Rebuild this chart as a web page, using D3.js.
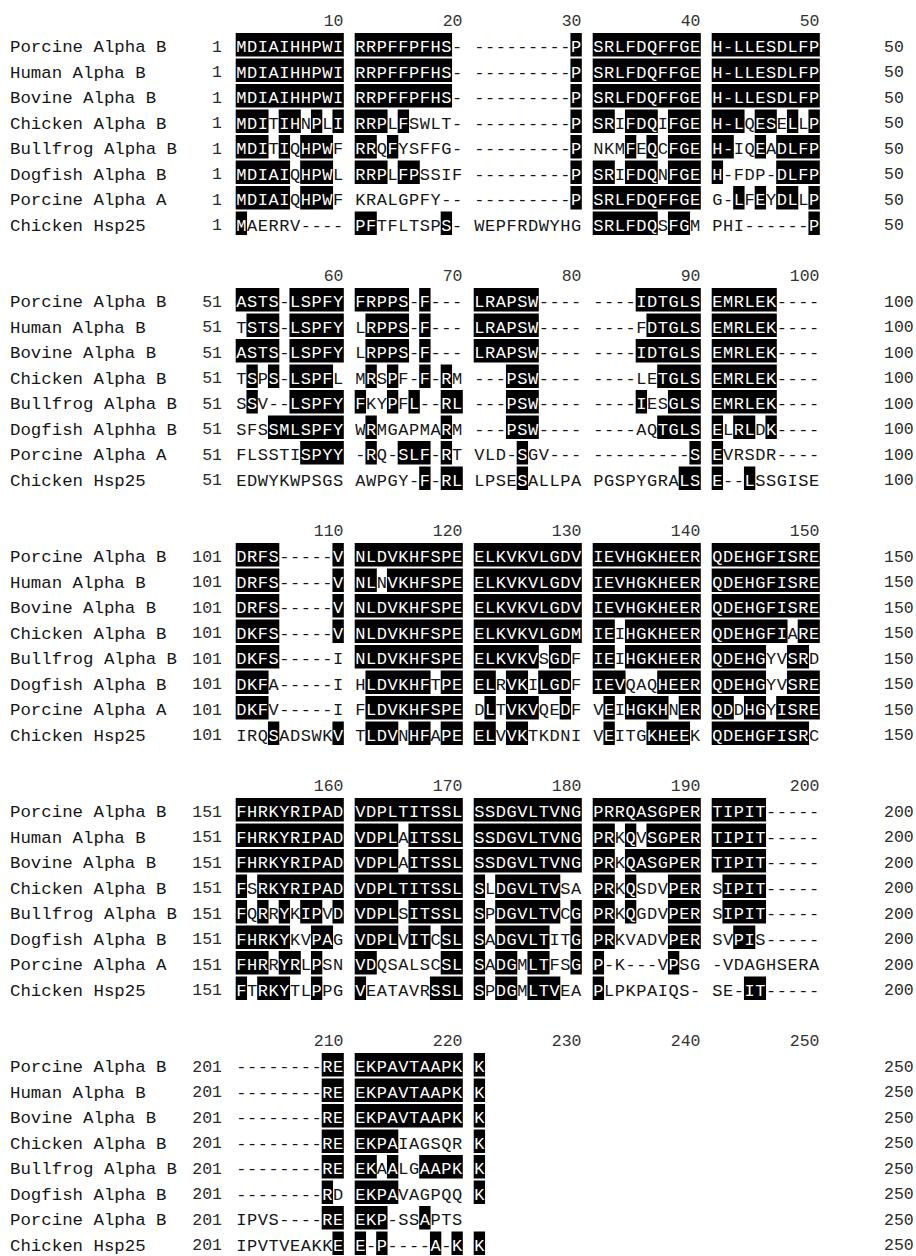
<!DOCTYPE html>
<html><head><meta charset="utf-8">
<script src="https://cdn.jsdelivr.net/npm/d3@7/dist/d3.min.js"></script>
<style>
body{margin:0;background:#fff}
text{font-family:"Liberation Mono","DejaVu Sans Mono",monospace}
</style>
</head><body>
<svg id="chart" width="916" height="1256"></svg>
<script>
// ---- data ----
const blockNames = [
  ["Porcine Alpha B","Human Alpha B","Bovine Alpha B","Chicken Alpha B","Bullfrog Alpha B","Dogfish Alpha B","Porcine Alpha A","Chicken Hsp25"],
  ["Porcine Alpha B","Human Alpha B","Bovine Alpha B","Chicken Alpha B","Bullfrog Alpha B","Dogfish Alphha B","Porcine Alpha A","Chicken Hsp25"],
  ["Porcine Alpha B","Human Alpha B","Bovine Alpha B","Chicken Alpha B","Bullfrog Alpha B","Dogfish Alpha B","Porcine Alpha A","Chicken Hsp25"],
  ["Porcine Alpha B","Human Alpha B","Bovine Alpha B","Chicken Alpha B","Bullfrog Alpha B","Dogfish Alpha B","Porcine Alpha A","Chicken Hsp25"],
  ["Porcine Alpha B","Human Alpha B","Bovine Alpha B","Chicken Alpha B","Bullfrog Alpha B","Dogfish Alpha B","Porcine Alpha B","Chicken Hsp25"]
];
const blockStarts = [1, 51, 101, 151, 201];
const blockEnds = [50, 100, 150, 200, 250];
const tickLabels = [
  [10, 20, 30, 40, 50],
  [60, 70, 80, 90, 100],
  [110, 120, 130, 140, 150],
  [160, 170, 180, 190, 200],
  [210, 220, 230, 240, 250]
];

const seq1 = [
  "MDIAIHHPWI RRPFFPFHS- ---------P SRLFDQFFGE H-LLESDLFP",
  "MDIAIHHPWI RRPFFPFHS- ---------P SRLFDQFFGE H-LLESDLFP",
  "MDIAIHHPWI RRPFFPFHS- ---------P SRLFDQFFGE H-LLESDLFP",
  "MDITIHNPLI RRPLFSWLT- ---------P SRIFDQIFGE H-LQESELLP",
  "MDITIQHPWF RRQFYSFFG- ---------P NKMFEQCFGE H-IQEADLFP",
  "MDIAIQHPWL RRPLFPSSIF ---------P SRIFDQNFGE H-FDP-DLFP",
  "MDIAIQHPWF KRALGPFY-- ---------P SRLFDQFFGE G-LFEYDLLP",
  "MAERRV---- PFTFLTSPS- WEPFRDWYHG SRLFDQSFGM PHI------P"
];
const hl1 = [
  "########## #########. .........# ########## ##########",
  "########## #########. .........# ########## ##########",
  "########## #########. .........# ########## ##########",
  "###.##.#.# ###.#..... .........# ##.###.### ###.##.#.#",
  "###.#.###. ##.#...... .........# ...#.#.### ##..#.####",
  "#####.###. ###.##.... .........# ##.###.### #.....####",
  "#####.###. .......... .........# ########## ..#.#.##.#",
  "#......... ##......#. .......... ######.##. .........#"
];
const seq2 = [
  "ASTS-LSPFY FRPPS-F--- LRAPSW---- ----IDTGLS EMRLEK----",
  "TSTS-LSPFY LRPPS-F--- LRAPSW---- ----FDTGLS EMRLEK----",
  "ASTS-LSPFY LRPPS-F--- LRAPSW---- ----IDTGLS EMRLEK----",
  "TSPS-LSPFL MRSPF-F-RM ---PSW---- ----LETGLS EMRLEK----",
  "SSV--LSPFY FKYPFL--RL ---PSW---- ----IESGLS EMRLEK----",
  "SFSSMLSPFY WRMGAPMARM ---PSW---- ----AQTGLS ELRLDK----",
  "FLSSTISPYY -RQ-SLF-RT VLD-SGV--- ---------S EVRSDR----",
  "EDWYKWPSGS AWPGY-F-RL LPSESALLPA PGSPYGRALS E--LSSGISE"
];
const hl2 = [
  "####.##### #####.#... ######.... ....###### ######....",
  ".###.##### .####.#... ######.... .....##### ######....",
  "####.##### .####.#... ######.... ....###### ######....",
  ".#.#.####. .#.#..#.#. ...###.... ......#### ######....",
  ".#...##### #..#.#..## ...###.... ....#..### ######....",
  "...####### .#......#. ...###.... ......#### #.##.#....",
  "......#### .#..###.#. ....#..... .........# #.........",
  ".......... ......#.## ....#..... ........## #..#......"
];
const seq3 = [
  "DRFS-----V NLDVKHFSPE ELKVKVLGDV IEVHGKHEER QDEHGFISRE",
  "DRFS-----V NLNVKHFSPE ELKVKVLGDV IEVHGKHEER QDEHGFISRE",
  "DRFS-----V NLDVKHFSPE ELKVKVLGDV IEVHGKHEER QDEHGFISRE",
  "DKFS-----V NLDVKHFSPE ELKVKVLGDM IEIHGKHEER QDEHGFIARE",
  "DKFS-----I NLDVKHFSPE ELKVKVSGDF IEIHGKHEER QDEHGYVSRD",
  "DKFA-----I HLDVKHFTPE ELRVKILGDF IEVQAQHEER QDEHGYVSRE",
  "DKFV-----I FLDVKHFSPE DLTVKVQEDF VEIHGKHNER QDDHGYISRE",
  "IRQSADSWKV TLDVNHFAPE ELVVKTKDNI VEITGKHEEK QDEHGFISRC"
];
const hl3 = [
  "####.....# ########## ########## ########## ##########",
  "####.....# ##.####### ########## ########## ##########",
  "####.....# ########## ########## ########## ##########",
  "####.....# ########## ########## ##.####### #######.##",
  "####...... ########## ######.##. ##.####### #####..##.",
  "###....... .######.## ##.##.###. ###...#### #####..###",
  "###....... .######### .#.###..#. .#.####.## ##.##.####",
  "...#.....# .###.##.## ##.##..... .#...####. #########."
];
const seq4 = [
  "FHRKYRIPAD VDPLTITSSL SSDGVLTVNG PRRQASGPER TIPIT-----",
  "FHRKYRIPAD VDPLAITSSL SSDGVLTVNG PRKQVSGPER TIPIT-----",
  "FHRKYRIPAD VDPLAITSSL SSDGVLTVNG PRKQASGPER TIPIT-----",
  "FSRKYRIPAD VDPLTITSSL SLDGVLTVSA PRKQSDVPER SIPIT-----",
  "FQRRYKIPVD VDPLSITSSL SPDGVLTVCG PRKQGDVPER SIPIT-----",
  "FHRKYKVPAG VDPLVITCSL SADGVLTITG PRKVADVPER SVPIS-----",
  "FHRRYRLPSN VDQSALSCSL SADGMLTFSG P-K---VPSG -VDAGHSERA",
  "FTRKYTLPPG VEATAVRSSL SPDGMLTVEA PLPKPAIQS- SE-IT-----"
];
const hl4 = [
  "########## ########## ########## ########## #####.....",
  "########## ####.##### ########## ##.#.##### #####.....",
  "########## ####.##### ########## ##.####### #####.....",
  "#.######## ########## #.######.. ##.#...### .####.....",
  "#.#.#.##.# ####.##### #.######.# ##.#...### .####.....",
  "#####..##. ####.##.## #.#####..# ##.....### ..##......",
  "###.##.#.. ##......## #.##.##..# #......#.. ..........",
  "#.###..#.. #......### #.##.###.. #......... ...##....."
];
const seq5 = [
  "--------RE EKPAVTAAPK K",
  "--------RE EKPAVTAAPK K",
  "--------RE EKPAVTAAPK K",
  "--------RE EKPAIAGSQR K",
  "--------RE EKAALGAAPK K",
  "--------RD EKPAVAGPQQ K",
  "IPVS----RE EKP-SSAPTS",
  "IPVTVEAKKE E-P----A-K K"
];
const hl5 = [
  "........## ########## #",
  "........## ########## #",
  "........## ########## #",
  "........## ####...... #",
  "........## ##.#..#### #",
  "........#. ####...... #",
  "........## ###...#...",
  ".........# #.#....#.# #"
];
const seqBlocks = [seq1, seq2, seq3, seq4, seq5];
const hlBlocks = [hl1, hl2, hl3, hl4, hl5];

// ---- layout ----
const svg = d3.select("#chart");
svg.append("rect").attr("width", 916).attr("height", 1256).attr("fill", "#fff");

const blockY = d3.scaleLinear().domain([0, 4]).range([46, 46 + 4 * 255]);
const rowY = d3.scaleLinear().domain([0, 7]).range([0, 7 * 25.5]);
const groupX = d3.scaleLinear().domain([0, 5]).range([236, 236 + 5 * 119]);
const charX = d3.scaleLinear().domain([0, 10]).range([0, 107.5]);
const colLeft = i => groupX(Math.floor(i / 10)) + charX(i % 10);
const cw = charX(1) - charX(0);
const boxTop = -13, boxH = 23.5;
const ink = "#161616";

seqBlocks.forEach((rows, b) => {
  const by = blockY(b);
  const g = svg.append("g").attr("class", "block");

  // tick labels
  g.selectAll("text.tick").data(tickLabels[b]).join("text")
    .attr("class", "tick")
    .attr("x", (d, k) => groupX(k) + charX(10))
    .attr("y", by - 26).attr("dy", "0.36em")
    .attr("text-anchor", "end")
    .attr("font-size", 16.5).attr("fill", "#333")
    .text(d => d);

  rows.forEach((s, r) => {
    const cy = by + rowY(r);
    const chars = s.replace(/ /g, "").split("");
    const mask = hlBlocks[b][r].replace(/ /g, "").split("");

    // name
    g.append("text").attr("x", 10).attr("y", cy).attr("dy", "0.36em")
      .attr("font-size", 17.4).attr("fill", ink).text(blockNames[b][r]);
    // start number
    g.append("text").attr("x", 222).attr("y", cy).attr("dy", "0.36em")
      .attr("text-anchor", "end").attr("font-size", 16.5).attr("fill", "#2a2a2a")
      .text(blockStarts[b]);
    // end number
    g.append("text").attr("x", 884).attr("y", cy).attr("dy", "0.36em")
      .attr("font-size", 16.5).attr("fill", "#2a2a2a")
      .text(blockEnds[b]);

    // highlight runs
    const runs = [];
    let cur = null;
    mask.forEach((m, i) => {
      if (m === "#" && cur && i % 10 !== 0 && cur.end === i) { cur.end = i + 1; }
      else if (m === "#") { cur = {start: i, end: i + 1}; runs.push(cur); }
      else cur = null;
    });
    g.selectAll(null).data(runs).join("rect")
      .attr("x", d => colLeft(d.start) - 0.3)
      .attr("width", d => charX(d.end - d.start) + 0.6)
      .attr("y", cy + boxTop).attr("height", boxH)
      .attr("fill", "#000");

    // residues
    g.selectAll(null).data(chars.map((c, i) => ({c, i, h: mask[i] === "#"}))).join("text")
      .attr("x", d => colLeft(d.i) + cw / 2)
      .attr("y", cy).attr("dy", "0.36em")
      .attr("text-anchor", "middle")
      .attr("font-size", 17)
      .attr("fill", d => d.h ? "#fff" : ink)
      .text(d => d.c);
  });
});
</script>
</body></html>
